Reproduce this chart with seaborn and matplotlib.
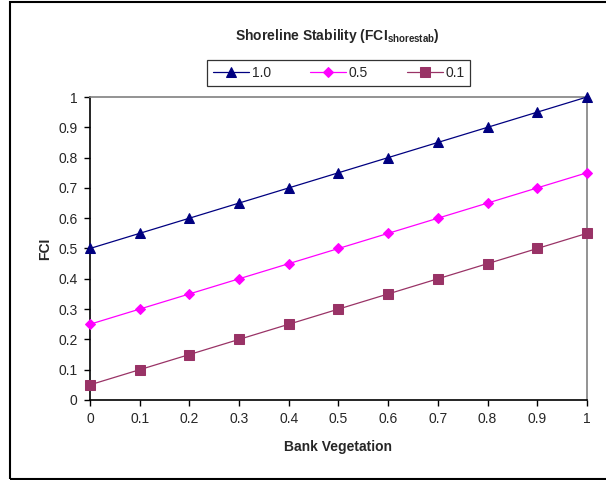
import pandas as pd
import seaborn as sns
import matplotlib.pyplot as plt
from matplotlib.patches import Rectangle

bank_veg = [0, 0.1, 0.2, 0.3, 0.4, 0.5, 0.6, 0.7, 0.8, 0.9, 1.0]
fci_10 = [0.5, 0.55, 0.6, 0.65, 0.7, 0.75, 0.8, 0.85, 0.9, 0.95, 1.0]
fci_05 = [0.25, 0.3, 0.35, 0.4, 0.45, 0.5, 0.55, 0.6, 0.65, 0.7, 0.75]
fci_01 = [0.05, 0.1, 0.15, 0.2, 0.25, 0.3, 0.35, 0.4, 0.45, 0.5, 0.55]
series = ['1.0', '0.5', '0.1']
tick_labels = ['0', '0.1', '0.2', '0.3', '0.4', '0.5', '0.6', '0.7', '0.8', '0.9', '1']

df = pd.DataFrame({
    'Bank Vegetation': bank_veg * 3,
    'FCI': fci_10 + fci_05 + fci_01,
    'series': [s for s in series for _ in bank_veg],
})

sns.set_style('white')
plt.rcParams['font.family'] = ['Liberation Sans', 'DejaVu Sans']
plt.rcParams['mathtext.fontset'] = 'custom'
plt.rcParams['mathtext.rm'] = 'Liberation Sans:bold'
plt.rcParams['mathtext.default'] = 'rm'

fs = 10

fig = plt.figure(figsize=(6.06, 4.8), dpi=100)
ax = fig.add_axes([0.1485, 0.1667, 0.8201, 0.6312])

palette = {'1.0': '#000080', '0.5': '#FF00FF', '0.1': '#993366'}
markers = {'1.0': '^', '0.5': 'D', '0.1': 's'}
sizes = {'1.0': 7.5, '0.5': 5.5, '0.1': 6.5}

for s in series:
    sub = df[df['series'] == s]
    sns.lineplot(data=sub, x='Bank Vegetation', y='FCI', ax=ax,
                 color=palette[s], marker=markers[s], markersize=sizes[s],
                 markeredgecolor=palette[s], linewidth=0.9, label=s,
                 clip_on=False, zorder=3)

ax.set_xlim(0, 1)
ax.set_ylim(0, 1)
ax.set_xticks(bank_veg)
ax.set_yticks(bank_veg)
ax.set_xticklabels(tick_labels)
ax.set_yticklabels(tick_labels)
ax.tick_params(axis='both', direction='out', length=4, width=1, color='black',
               labelsize=fs, bottom=True, left=True, pad=5)

for side in ['left', 'bottom']:
    ax.spines[side].set_color('black')
    ax.spines[side].set_linewidth(1.2)
for side in ['top', 'right']:
    ax.spines[side].set_color('#808080')
    ax.spines[side].set_linewidth(1.2)

ax.set_xlabel('Bank Vegetation', fontsize=fs, fontweight='bold', labelpad=10)
ax.set_ylabel('FCI', fontsize=fs, fontweight='bold', labelpad=4)

fig.text(0.556, 0.925, r'Shoreline Stability (FCI$_{\mathrm{shorestab}}$)',
         ha='center', va='center', fontsize=fs, fontweight='bold')

ax.legend(loc='center', bbox_to_anchor=(0.559, 0.848), bbox_transform=fig.transFigure,
          ncol=3, frameon=True, fancybox=False, edgecolor='black', fontsize=fs,
          handlelength=2.6, columnspacing=2.8, borderpad=0.4, handletextpad=0.2)
ax.get_legend().get_frame().set_linewidth(0.9)

fig.add_artist(Rectangle((0.016, 0.003), 0.99, 0.992, transform=fig.transFigure,
                         fill=False, edgecolor='black', linewidth=1.5))

fig.savefig('out.png', dpi=100)
